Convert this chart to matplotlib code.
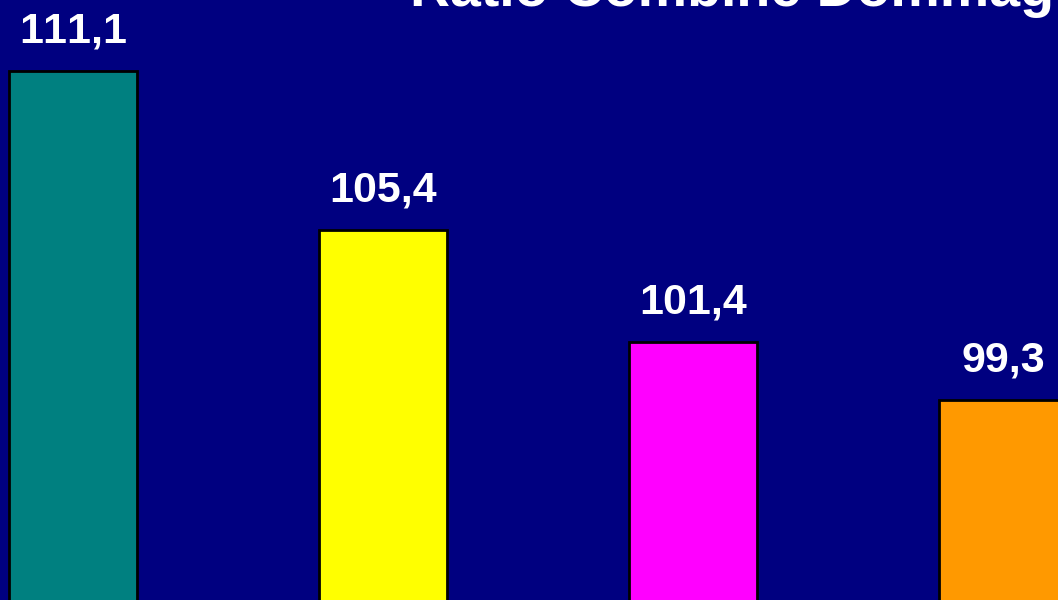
import numpy as np
import matplotlib
matplotlib.use("Agg")
import matplotlib.pyplot as plt

categories = ["A", "B", "C", "D"]
values = [111.1, 105.4, 101.4, 99.3]
labels = ["111,1", "105,4", "101,4", "99,3"]
colors = ["#008080", "#FFFF00", "#FF00FF", "#FF9900"]
title = "Ratio Combiné Dommages"

plt.rcParams['font.family'] = ['Liberation Sans', 'DejaVu Sans']
plt.rcParams['text.kerning_factor'] = 12  # turn off the tight "11" kerning

fig = plt.figure(figsize=(10.58, 6), dpi=100, facecolor="#000080")
ax = fig.add_axes([0, 0, 1, 1])
ax.set_facecolor("#000080")

x = np.arange(len(values))
ax.bar(x, values, width=0.413, color=colors, edgecolor="black", linewidth=2)

for xi, v, lab in zip(x, values, labels):
    ax.annotate(lab, (xi, v), xytext=(0, 14), textcoords="offset points",
                ha="center", va="bottom", color="white", fontsize=31, fontweight="bold")

ax.set_xlim(-0.2355, 3.177)
ax.set_ylim(92.14, 113.64)
ax.axis("off")

fig.text(410 / 1058, 1 - 6 / 600, title, ha="left", va="baseline",
         color="white", fontsize=40, fontweight="bold")

fig.savefig("out.png", dpi=100, facecolor=fig.get_facecolor())
